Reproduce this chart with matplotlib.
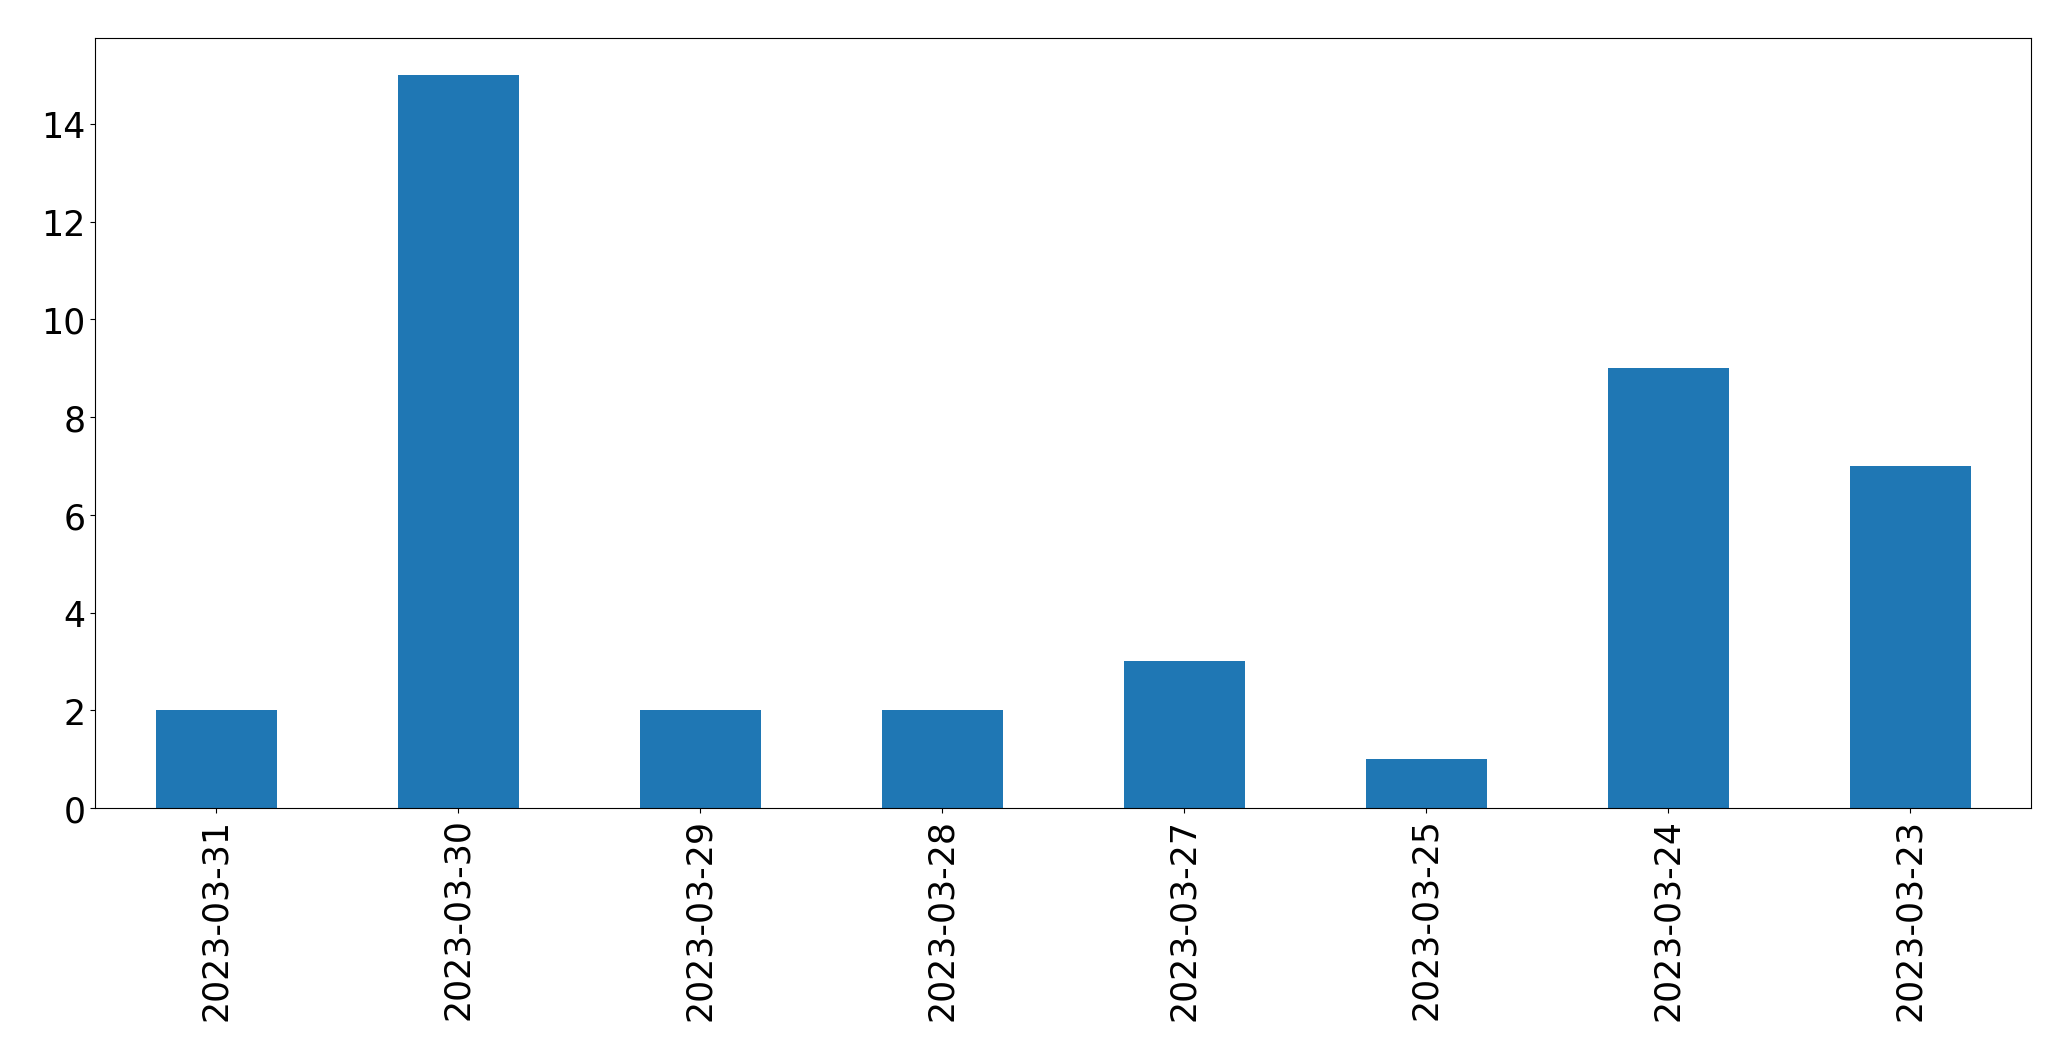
import pandas as pd
from matplotlib import pyplot as plt

# counts per day, in the order shown
dates = ['2023-03-31', '2023-03-30', '2023-03-29', '2023-03-28',
         '2023-03-27', '2023-03-25', '2023-03-24', '2023-03-23']
counts = [2, 15, 2, 2, 3, 1, 9, 7]

s = pd.Series(counts, index=dates)

fig = plt.figure(figsize=(20.71, 10.607), dpi=100)
ax = fig.add_subplot(111)
s.plot(kind='bar', ax=ax, color='#1f77b4')
ax.tick_params(axis='both', which='major', labelsize=25)
fig.subplots_adjust(left=0.0459, right=0.9807, top=0.9632, bottom=0.2375)

plt.savefig('out.png', dpi=100)
